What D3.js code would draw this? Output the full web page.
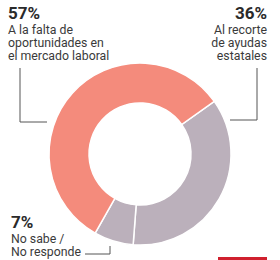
<!DOCTYPE html>
<html>
<head>
<meta charset="utf-8">
<script src="https://cdn.jsdelivr.net/npm/d3@7"></script>
<style>
  body { margin: 0; background: #fff; }
  svg text { font-family: Roboto, "Noto Sans", sans-serif; fill: #3a3a3a; }
</style>
</head>
<body>
<div id="chart"></div>
<script>
// survey answers, clockwise from the upper right
var categories = ["Al recorte de ayudas estatales", "No sabe / No responde", "A la falta de oportunidades en el mercado laboral"];
var values = [36, 7, 57];
var colors = ["#bbb0bb", "#bbb0bb", "#f48b7c"];

var width = 280, height = 260;
var cx = 140, cy = 154;

var svg = d3.select("#chart").append("svg")
  .attr("width", width).attr("height", height);

var pie = d3.pie().sort(null)
  .startAngle(0.955).endAngle(0.955 + 2 * Math.PI);
var arc = d3.arc().innerRadius(51).outerRadius(91);

var g = svg.append("g").attr("transform", "translate(" + cx + "," + cy + ")");
g.selectAll("path")
  .data(pie(values))
  .enter().append("path")
  .attr("d", arc)
  .attr("fill", function (d, i) { return colors[i]; })
  .attr("stroke", "#fff")
  .attr("stroke-width", 1.5);

// labels
var labels = [
  { pct: "57%", lines: ["A la falta de", "oportunidades en", "el mercado laboral"], x: 8, y: 19, anchor: "start" },
  { pct: "36%", lines: ["Al recorte", "de ayudas", "estatales"], x: 267, y: 19, anchor: "end" },
  { pct: "7%", lines: ["No sabe /", "No responde"], x: 11, y: 228, anchor: "start" }
];

labels.forEach(function (l) {
  svg.append("text")
    .attr("x", l.x).attr("y", l.y)
    .attr("text-anchor", l.anchor)
    .style("font-size", "17px").style("font-weight", "bold")
    .style("fill", "#2a2a2a")
    .text(l.pct);
  l.lines.forEach(function (s, j) {
    svg.append("text")
      .attr("x", l.x).attr("y", l.y + 15 + j * 13.2)
      .attr("text-anchor", l.anchor)
      .style("font-size", "12.3px")
      .text(s);
  });
});

// leader lines
var leaders = [
  [[20, 68], [20, 122], [47, 122]],
  [[257, 68], [257, 120], [230, 120]],
  [[85, 254], [110, 254], [110, 246]]
];
var line = d3.line();
leaders.forEach(function (p) {
  svg.append("path").attr("d", line(p))
    .attr("fill", "none").attr("stroke", "#555").attr("stroke-width", 1);
});

// red footer mark
svg.append("rect").attr("x", 218).attr("y", 257).attr("width", 49).attr("height", 3)
  .attr("fill", "#d0202e");
</script>
</body>
</html>
